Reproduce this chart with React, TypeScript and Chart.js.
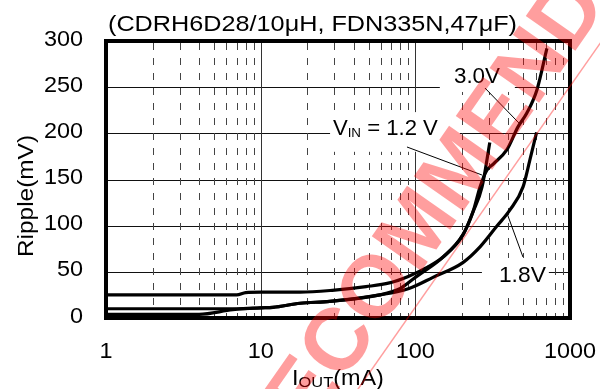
import React, { useEffect, useRef } from "react";
import { Chart, registerables } from "chart.js";

Chart.register(...registerables);

const FONT = '"Liberation Sans", Arial, Helvetica, sans-serif';

// ---- data (I_OUT in mA, ripple in mV) ----
const iout30 = [1, 7, 8, 10, 18, 29, 48, 68, 90, 120, 151, 203, 236, 262, 290, 320, 390, 461, 526, 611, 709];
const ripple30 = [25, 25, 27.5, 28, 28, 30, 34, 38, 45, 55, 66, 90, 115, 142, 160, 167, 182, 207, 222, 247, 292];

const iout18 = [1, 7, 10, 12, 18, 28, 59, 91, 130, 203, 262, 335, 409, 497, 550, 608];
const ripple18 = [10, 10, 11, 11.5, 16, 18, 25, 32, 44, 60, 77, 99, 117, 142, 171, 201];

const iout12 = [1, 4, 6.6, 10, 12, 18, 28, 59, 80, 100, 151, 203, 236, 270, 303];
const ripple12 = [4, 4, 9, 11, 11.5, 16, 18, 25, 32, 44, 66, 90, 115, 142, 190];

const xTickValues = [1, 10, 100, 1000];
const xTickLabels = ["1", "10", "100", "1000"];
const yTickValues = [0, 50, 100, 150, 200, 250, 300];
const yTickLabels = ["0", "50", "100", "150", "200", "250", "300"];
const decades = [1, 10, 100];

const titleText = "(CDRH6D28/10μH, FDN335N,47μF)";
const yTitle = "Ripple(mV)";
const watermark = "RECOMMENDED";

type Seg = { t: string; size?: number; dy?: number };

function richWidth(ctx: CanvasRenderingContext2D, segs: Seg[]) {
  let w = 0;
  for (const s of segs) {
    ctx.font = `${s.size ?? 21.5}px ${FONT}`;
    w += ctx.measureText(s.t).width;
  }
  return w;
}

function drawRich(
  ctx: CanvasRenderingContext2D,
  segs: Seg[],
  x: number,
  y: number,
  opts: { align?: "left" | "center" | "right"; sx?: number; fit?: number } = {}
) {
  const nat = richWidth(ctx, segs);
  const sx = opts.fit ? opts.fit / nat : opts.sx ?? 1.09;
  const tw = nat * sx;
  const align = opts.align ?? "left";
  const x0 = align === "right" ? x - tw : align === "center" ? x - tw / 2 : x;
  ctx.save();
  ctx.translate(x0, y);
  ctx.scale(sx, 1);
  ctx.textAlign = "left";
  ctx.textBaseline = "alphabetic";
  ctx.fillStyle = "#000";
  let cx = 0;
  for (const s of segs) {
    ctx.font = `${s.size ?? 21.5}px ${FONT}`;
    ctx.fillText(s.t, cx, s.dy ?? 0);
    cx += ctx.measureText(s.t).width;
  }
  ctx.restore();
}

function seg(ctx: CanvasRenderingContext2D, x1: number, y1: number, x2: number, y2: number) {
  ctx.beginPath();
  ctx.moveTo(x1, y1);
  ctx.lineTo(x2, y2);
  ctx.stroke();
}

// annotation boxes / leaders in data coordinates [x(mA), y(mV)]
const boxes = [
  [28.1, 223, 194, 180], // V_IN label
  [144, 281.6, 440, 244.8], // 3.0V label
  [269.5, 65, 730, 30.3], // 1.8V label
];
const leaders = [
  [88.3, 185.2, 269.5, 154.9],
  [281.8, 249.1, 467.4, 211.2],
  [496.3, 66.1, 391, 113.7],
];

const decor = {
  id: "decor",
  beforeDatasetsDraw(chart: any) {
    const { ctx, chartArea: a, scales } = chart;
    const x = scales.x;
    const y = scales.y;
    ctx.save();
    // horizontal grid
    ctx.strokeStyle = "#111";
    ctx.lineWidth = 1;
    for (const v of yTickValues) {
      if (v === 0 || v === 300) continue;
      const py = Math.round(y.getPixelForValue(v)) + 0.5;
      seg(ctx, a.left, py, a.right, py);
    }
    // vertical minor dashed
    ctx.strokeStyle = "#444";
    ctx.setLineDash([7, 8]);
    for (const d of decades) {
      for (let m = 2; m <= 9; m++) {
        const px = Math.round(x.getPixelForValue(m * d)) + 0.5;
        seg(ctx, px, a.top + 2, px, a.bottom);
      }
    }
    ctx.setLineDash([]);
    // vertical solid at decades
    ctx.strokeStyle = "#333";
    for (const v of [10, 100]) {
      const px = Math.round(x.getPixelForValue(v)) + 0.5;
      seg(ctx, px, a.top, px, a.bottom);
    }
    // label boxes
    ctx.fillStyle = "#fff";
    for (const b of boxes) {
      const x1 = x.getPixelForValue(b[0]);
      const y1 = y.getPixelForValue(b[1]);
      const x2 = x.getPixelForValue(b[2]);
      const y2 = y.getPixelForValue(b[3]);
      ctx.fillRect(x1, y1, x2 - x1, y2 - y1);
    }
    // leaders
    ctx.strokeStyle = "#000";
    ctx.lineWidth = 1;
    for (const l of leaders) {
      seg(ctx, x.getPixelForValue(l[0]), y.getPixelForValue(l[1]), x.getPixelForValue(l[2]), y.getPixelForValue(l[3]));
    }
    // labels
    drawRich(
      ctx,
      [{ t: "V" }, { t: "IN", size: 13, dy: 2 }, { t: " = 1.2 V" }],
      x.getPixelForValue(29.3),
      y.getPixelForValue(198.2),
      { fit: 105 }
    );
    drawRich(ctx, [{ t: "3.0V" }], x.getPixelForValue(177.7), y.getPixelForValue(255), { fit: 46 });
    drawRich(ctx, [{ t: "1.8V" }], x.getPixelForValue(347), y.getPixelForValue(39), { fit: 47 });
    ctx.restore();
  },
  afterDraw(chart: any) {
    const { ctx, chartArea: a, scales } = chart;
    const x = scales.x;
    const y = scales.y;
    ctx.save();
    // frame
    ctx.strokeStyle = "#000";
    ctx.lineWidth = 4;
    ctx.strokeRect(a.left, a.top, a.right - a.left, a.bottom - a.top);
    // tick labels
    yTickValues.forEach((v, i) => {
      drawRich(ctx, [{ t: yTickLabels[i] }], a.left - 23, y.getPixelForValue(v) + 4.5, { align: "right" });
    });
    xTickValues.forEach((v, i) => {
      drawRich(ctx, [{ t: xTickLabels[i] }], x.getPixelForValue(v), a.bottom + 40, { align: "center" });
    });
    // title
    drawRich(ctx, [{ t: titleText }], a.left + 2, 31, { fit: 409 });
    // x title
    drawRich(
      ctx,
      [{ t: "I" }, { t: "OUT", size: 15, dy: 2 }, { t: "(mA)" }],
      (a.left + a.right) / 2,
      385,
      { align: "center" }
    );
    // y title
    ctx.save();
    ctx.translate(33, 196);
    ctx.rotate(-Math.PI / 2);
    drawRich(ctx, [{ t: yTitle, size: 22 }], 0, 0, { align: "center", fit: 122 });
    ctx.restore();
    // watermark
    ctx.save();
    ctx.translate(335, 340);
    ctx.rotate((-55 * Math.PI) / 180);
    ctx.font = `bold 88px ${FONT}`;
    ctx.fillStyle = "rgba(255,0,0,0.38)";
    ctx.textAlign = "left";
    ctx.textBaseline = "alphabetic";
    const wRE = ctx.measureText("RE").width;
    const wC = ctx.measureText("C").width;
    ctx.fillText(watermark, -(wRE + wC / 2), 31);
    ctx.strokeStyle = "rgba(255,0,0,0.38)";
    ctx.lineWidth = 1.5;
    seg(ctx, -300, 47, 500, 47);
    ctx.restore();
    ctx.restore();
  },
};

function mk(xs: number[], ys: number[]) {
  return {
    data: xs.map((v, i) => ({ x: v, y: ys[i] })),
    borderColor: "#000",
    borderWidth: 3.2,
    pointRadius: 0,
    fill: false,
    cubicInterpolationMode: "monotone" as const,
  };
}

export default function App() {
  const ref = useRef<HTMLCanvasElement>(null);
  useEffect(() => {
    const canvas = ref.current!;
    const chart = new Chart(canvas, {
      type: "line",
      data: { datasets: [mk(iout30, ripple30), mk(iout18, ripple18), mk(iout12, ripple12)] as any },
      options: {
        animation: false,
        responsive: false,
        devicePixelRatio: 1,
        events: [],
        layout: { padding: { top: 41, right: 30, left: 0, bottom: 0 } },
        plugins: { legend: { display: false }, tooltip: { enabled: false }, title: { display: false } },
        scales: {
          x: {
            type: "logarithmic",
            min: 1,
            max: 1000,
            ticks: { display: false },
            grid: { display: false, drawTicks: false },
            border: { display: false },
            afterFit: (s: any) => {
              s.height = 71;
            },
          },
          y: {
            type: "linear",
            min: 0,
            max: 300,
            ticks: { display: false },
            grid: { display: false, drawTicks: false },
            border: { display: false },
            afterFit: (s: any) => {
              s.width = 106;
            },
          },
        },
      } as any,
      plugins: [decor],
    });
    return () => chart.destroy();
  }, []);
  return (
    <div style={{ position: "fixed", left: 0, top: 0, width: 600, height: 389, background: "#fff" }}>
      <canvas ref={ref} width={600} height={389} style={{ display: "block", width: 600, height: 389 }} />
    </div>
  );
}
